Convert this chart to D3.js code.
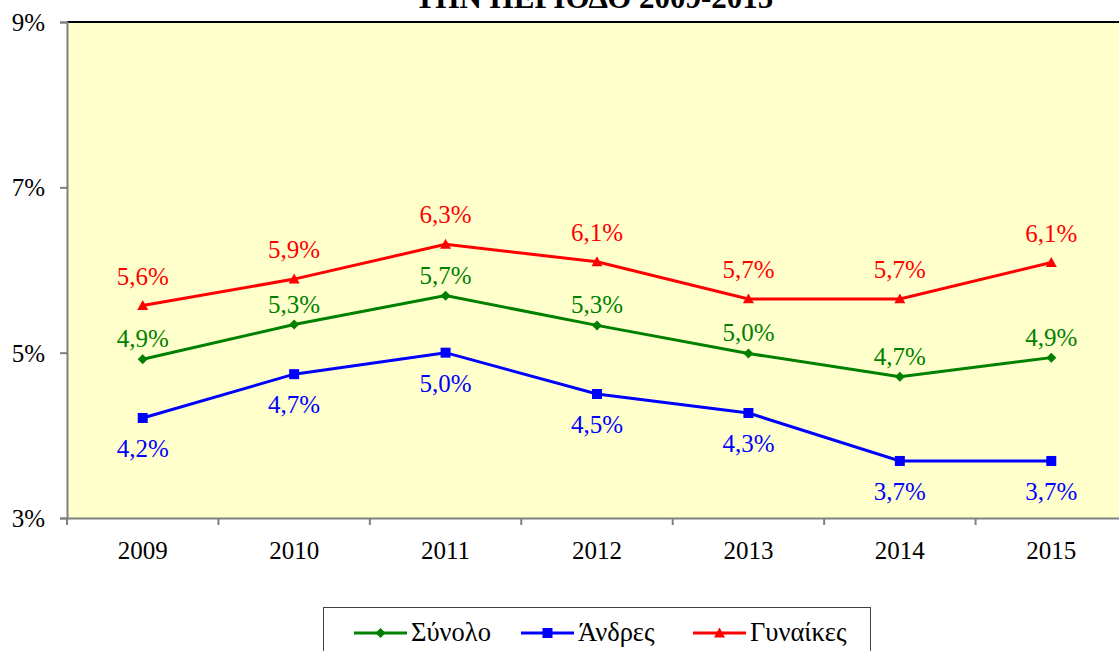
<!DOCTYPE html>
<html>
<head>
<meta charset="utf-8">
<script src="https://cdn.jsdelivr.net/npm/d3@7/dist/d3.min.js"></script>
<style>
  html, body { margin: 0; padding: 0; background: #ffffff; overflow: hidden; }
  svg { display: block; }
  svg text { font-family: "Liberation Serif", "Times New Roman", "DejaVu Serif", serif; }
</style>
</head>
<body>
<svg id="chart" width="1119" height="651"></svg>
<script>
const title = "ΤΗΝ ΠΕΡΙΟΔΟ 2009-2015";
const years = ["2009", "2010", "2011", "2012", "2013", "2014", "2015"];
const seriesNames = ["Σύνολο", "Άνδρες", "Γυναίκες"];
const totalValues = [4.92, 5.34, 5.69, 5.33, 4.99, 4.71, 4.94];
const menValues = [4.21, 4.74, 5.00, 4.50, 4.27, 3.69, 3.69];
const womenValues = [5.57, 5.89, 6.31, 6.10, 5.65, 5.65, 6.09];
const totalLabels = ["4,9%", "5,3%", "5,7%", "5,3%", "5,0%", "4,7%", "4,9%"];
const menLabels = ["4,2%", "4,7%", "5,0%", "4,5%", "4,3%", "3,7%", "3,7%"];
const womenLabels = ["5,6%", "5,9%", "6,3%", "6,1%", "5,7%", "5,7%", "6,1%"];
const yTicks = [3, 5, 7, 9];

const FONT = '"Liberation Serif", "Times New Roman", "DejaVu Serif", serif';

const series = [
  { name: seriesNames[0], values: totalValues, labels: totalLabels, color: "#008000", marker: "diamond", labelDy: -12 },
  { name: seriesNames[1], values: menValues, labels: menLabels, color: "#0000FF", marker: "square", labelDy: 39 },
  { name: seriesNames[2], values: womenValues, labels: womenLabels, color: "#FF0000", marker: "triangle", labelDy: -21 }
];

const svg = d3.select("#chart");
const plot = { left: 67, right: 1127, top: 22, bottom: 518 };

const x = d3.scaleBand().domain(years).range([plot.left, plot.right]).padding(0);
const y = d3.scaleLinear().domain([3, 9]).range([plot.bottom, plot.top]);
const cx = d => x(d) + x.bandwidth() / 2;

// Plot background
svg.append("rect")
  .attr("x", plot.left).attr("y", plot.top)
  .attr("width", plot.right - plot.left).attr("height", plot.bottom - plot.top)
  .attr("fill", "#FFFFCC");

// Top border
svg.append("line")
  .attr("x1", plot.left).attr("x2", plot.right)
  .attr("y1", plot.top).attr("y2", plot.top)
  .attr("stroke", "#000").attr("stroke-width", 2);

// Y axis
const yAxis = d3.axisLeft(y).tickValues(yTicks).tickSize(7).tickFormat(d => d + "%");
const gy = svg.append("g").attr("transform", `translate(${plot.left},0)`).call(yAxis);
gy.attr("font-family", null);
gy.select(".domain").attr("stroke", "#808080").attr("stroke-width", 2);
gy.selectAll(".tick line").attr("stroke", "#808080").attr("stroke-width", 2);
gy.selectAll(".tick text")
  .style("font-family", FONT).style("font-size", "25px").attr("fill", "#000")
  .attr("x", -22).attr("dy", "0.34em");

// X axis
const xAxis = d3.axisBottom(x).tickSize(0).tickSizeOuter(0);
const gx = svg.append("g").attr("transform", `translate(0,${plot.bottom})`).call(xAxis);
gx.attr("font-family", null);
gx.select(".domain").attr("stroke", "#808080").attr("stroke-width", 2);
gx.selectAll(".tick text")
  .style("font-family", FONT).style("font-size", "25px").attr("fill", "#000")
  .attr("y", 23).attr("dy", "0.71em");
// Category boundary tick marks
const bounds = years.map(d => x(d)).concat([x(years[years.length - 1]) + x.bandwidth()]);
svg.append("g").selectAll("line")
  .data(bounds)
  .join("line")
  .attr("x1", d => d).attr("x2", d => d)
  .attr("y1", plot.bottom).attr("y2", plot.bottom + 7)
  .attr("stroke", "#808080").attr("stroke-width", 2);

// Title
svg.append("text")
  .attr("x", 594).attr("y", 8)
  .attr("text-anchor", "middle")
  .style("font-family", FONT).style("font-weight", "bold").style("font-size", "31px")
  .attr("fill", "#000")
  .text(title);

function drawMarker(g, type, px, py, color) {
  if (type === "diamond") {
    const r = 5;
    g.append("path").attr("d", `M${px},${py - r}L${px + r},${py}L${px},${py + r}L${px - r},${py}Z`).attr("fill", color);
  } else if (type === "square") {
    const r = 5;
    g.append("rect").attr("x", px - r).attr("y", py - r).attr("width", 2 * r).attr("height", 2 * r).attr("fill", color);
  } else {
    const r = 5.5;
    g.append("path").attr("d", `M${px},${py - r}L${px + r},${py + r * 0.8}L${px - r},${py + r * 0.8}Z`).attr("fill", color);
  }
}

const line = d3.line().x((d, i) => cx(years[i])).y(d => y(d));

series.forEach(s => {
  const g = svg.append("g");
  g.append("path").datum(s.values).attr("d", line)
    .attr("fill", "none").attr("stroke", s.color).attr("stroke-width", 3);
  s.values.forEach((v, i) => drawMarker(g, s.marker, cx(years[i]), y(v), s.color));
  g.selectAll("text.lbl").data(s.values).join("text")
    .attr("class", "lbl")
    .attr("x", (d, i) => cx(years[i]))
    .attr("y", d => y(d) + s.labelDy)
    .attr("text-anchor", "middle")
    .style("font-family", FONT).style("font-size", "25px")
    .attr("fill", s.color)
    .text((d, i) => s.labels[i]);
});

// Legend
const lg = svg.append("g");
lg.append("rect").attr("x", 323.5).attr("y", 607.5).attr("width", 547).attr("height", 70)
  .attr("fill", "#fff").attr("stroke", "#404040").attr("stroke-width", 1);
const legendX = [354, 521, 693];
series.forEach((s, i) => {
  const lx = legendX[i];
  lg.append("line").attr("x1", lx).attr("x2", lx + 53).attr("y1", 633).attr("y2", 633)
    .attr("stroke", s.color).attr("stroke-width", 3);
  drawMarker(lg, s.marker, lx + 26.5, 633, s.color);
  lg.append("text").attr("x", lx + 57).attr("y", 641)
    .style("font-family", FONT).style("font-size", "26.5px").attr("fill", "#000")
    .text(s.name);
});
</script>
</body>
</html>
